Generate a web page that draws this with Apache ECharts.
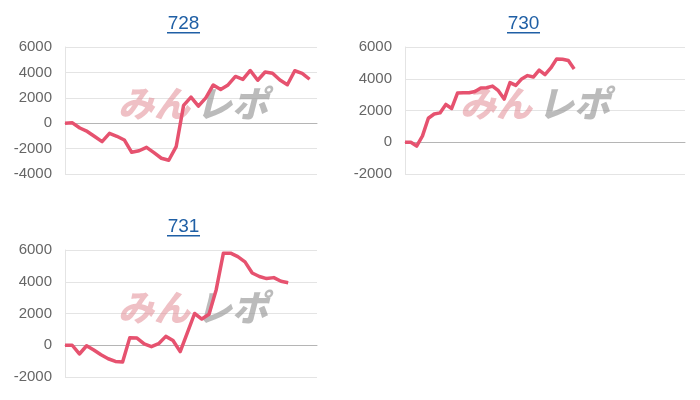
<!DOCTYPE html>
<html>
<head>
<meta charset="utf-8">
<script src="https://cdn.jsdelivr.net/npm/echarts@6/dist/echarts.min.js"></script>
<style>
html,body{margin:0;padding:0;background:#fff;}
#c{width:700px;height:400px;}
</style>
</head>
<body>
<div id="c"></div>
<script>
// ---- data ----
const titles = ['728', '730', '731'];
const cats728 = Array.from({length: 35}, (_, i) => String(i));
const cats730 = Array.from({length: 49}, (_, i) => String(i));
const cats731 = Array.from({length: 36}, (_, i) => String(i));
const vals728 = [0, 30, -380, -650, -1050, -1450, -800, -1030, -1320, -2290, -2170, -1900, -2320, -2760, -2920, -1850, 1400, 2050, 1350, 2000, 3010, 2650, 3010, 3680, 3450, 4150, 3380, 4030, 3930, 3400, 3030, 4130, 3930, 3460];
const vals730 = [0, 0, -240, 400, 1510, 1780, 1850, 2380, 2130, 3100, 3120, 3120, 3200, 3420, 3430, 3540, 3250, 2720, 3760, 3580, 3990, 4200, 4110, 4550, 4260, 4680, 5250, 5230, 5150, 4620];
const vals731 = [0, 0, -550, -30, -300, -600, -850, -1020, -1060, 480, 450, 80, -90, 100, 560, 300, -400, 800, 2000, 1650, 1950, 3500, 5800, 5800, 5580, 5250, 4550, 4330, 4200, 4260, 4030, 3940];
const yTicks728 = [-4000, -2000, 0, 2000, 4000, 6000];
const yTicks730 = [-2000, 0, 2000, 4000, 6000];
const yTicks731 = [-2000, 0, 2000, 4000, 6000];

const LINE = '#e6526f';
const LINK = '#1f5fa5';
const FONT = '"Liberation Sans", Arial, sans-serif';

const grids = [
  {left: 65, top: 47, width: 252, height: 127},
  {left: 405, top: 47, width: 280, height: 127},
  {left: 65, top: 250, width: 252, height: 127}
];
const cats = [cats728, cats730, cats731];
const vals = [vals728, vals730, vals731];
const ticks = [yTicks728, yTicks730, yTicks731];

const xAxis = cats.map((c, i) => ({
  type: 'category', gridIndex: i, data: c, boundaryGap: false,
  axisLabel: {show: false}, axisTick: {show: false},
  axisLine: {show: true, onZero: true, lineStyle: {color: '#b5b5b5', width: 1}},
  splitLine: {show: false}
}));
const yAxis = ticks.map((t, i) => ({
  type: 'value', gridIndex: i, min: t[0], max: t[t.length - 1], interval: 2000,
  axisLine: {show: true, lineStyle: {color: '#e4e4e4'}},
  axisTick: {show: false},
  axisLabel: {color: '#666', fontSize: 15, fontFamily: FONT, margin: 13,
    formatter: v => String(v)},
  splitLine: {lineStyle: {color: '#e4e4e4', width: 1}}
}));
const series = vals.map((v, i) => ({
  type: 'line', xAxisIndex: i, yAxisIndex: i, data: v,
  showSymbol: false, smooth: false, silent: true,
  lineStyle: {color: LINE, width: 3.5, join: 'round'}, z: 5
}));

const titlePos = [[183.5, 24], [523.5, 24], [183.5, 227]];
const graphic = [];
titlePos.forEach((p, i) => {
  graphic.push({type: 'text', x: p[0], y: p[1], z: 10,
    style: {text: titles[i], fill: LINK, font: '19px ' + FONT, align: 'center', verticalAlign: 'middle'}});
  graphic.push({type: 'rect', shape: {x: p[0] - 16.5, y: p[1] + 8, width: 33, height: 1.5}, style: {fill: LINK}, z: 10});
});
const wmPos = [[118, 103], [460, 103], [118, 307]];
wmPos.forEach(p => {
  graphic.push({type: 'text', x: p[0], y: p[1], z: 1,
    style: {text: 'みん', fill: 'rgba(228,150,158,0.6)', font: 'italic 900 36px "Noto Sans CJK JP"', verticalAlign: 'middle'}});
  graphic.push({type: 'text', x: p[0] + 78, y: p[1], z: 1,
    style: {text: 'レポ', fill: 'rgba(150,150,150,0.65)', font: 'italic 900 36px "Noto Sans CJK JP"', verticalAlign: 'middle'}});
});

const chart = echarts.init(document.getElementById('c'), null, {renderer: 'canvas'});
chart.setOption({
  animation: false,
  backgroundColor: '#fff',
  grid: grids,
  xAxis: xAxis,
  yAxis: yAxis,
  series: series,
  graphic: graphic
});
</script>
</body>
</html>
